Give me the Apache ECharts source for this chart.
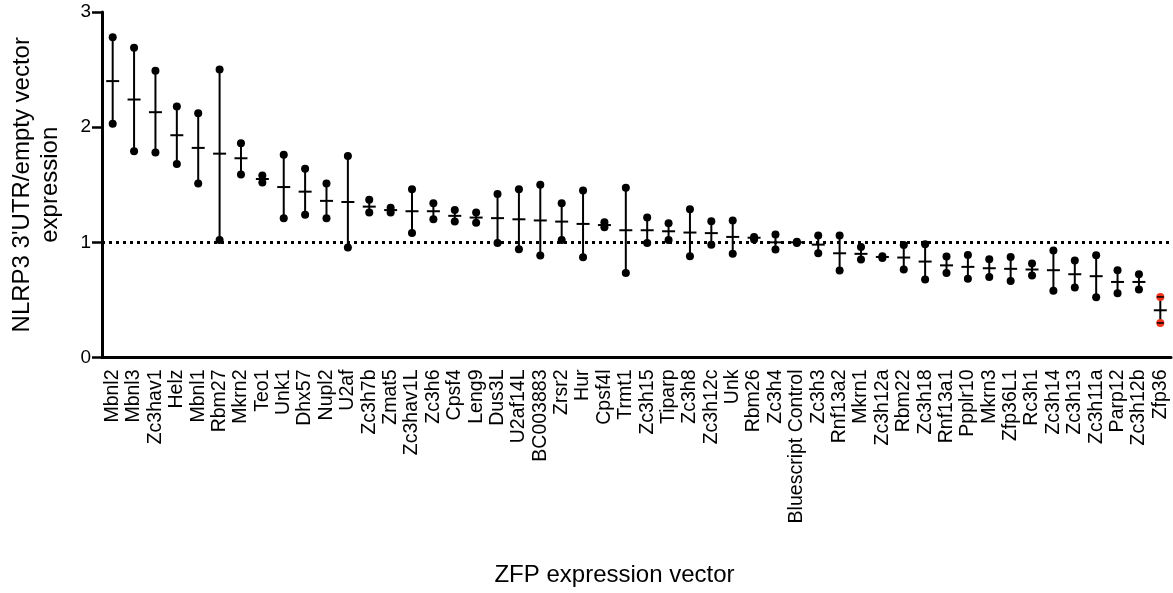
<!DOCTYPE html>
<html>
<head>
<meta charset="utf-8">
<script src="https://cdn.jsdelivr.net/npm/echarts@6/dist/echarts.min.js"></script>
<style>
html,body{margin:0;padding:0;background:#fff;}
#chart{width:1173px;height:593px;}
</style>
</head>
<body>
<div id="chart"></div>
<script>
const categories = ['Mbnl2','Mbnl3','Zc3hav1','Helz','Mbnl1','Rbm27','Mkrn2','Teo1','Unk1','Dhx57','Nupl2','U2af','Zc3h7b','Zmat5','Zc3hav1L','Zc3h6','Cpsf4','Leng9','Dus3L','U2af14L','BC003883','Zrsr2','Hur','Cpsf4l','Trmt1','Zc3h15','Tiparp','Zc3h8','Zc3h12c','Unk','Rbm26','Zc3h4','Bluescript Control','Zc3h3','Rnf13a2','Mkrn1','Zc3h12a','Rbm22','Zc3h18','Rnf13a1','Ppplr10','Mkrn3','Zfp36L1','Rc3h1','Zc3h14','Zc3h13','Zc3h11a','Parp12','Zc3h12b','Zfp36'];
const highValues = [2.78,2.69,2.49,2.18,2.12,2.50,1.86,1.58,1.76,1.64,1.51,1.75,1.37,1.30,1.46,1.34,1.28,1.26,1.42,1.46,1.50,1.34,1.45,1.175,1.475,1.215,1.166,1.287,1.183,1.19,1.047,1.068,1.005,1.059,1.059,0.96,0.88,0.977,0.983,0.877,0.89,0.853,0.873,0.816,0.93,0.842,0.888,0.758,0.723,0.526];
const lowValues = [2.03,1.79,1.78,1.68,1.51,1.02,1.59,1.52,1.21,1.24,1.21,0.955,1.26,1.26,1.08,1.20,1.18,1.17,0.995,0.94,0.885,1.02,0.87,1.13,0.734,0.995,1.02,0.88,0.98,0.90,1.024,0.937,0.995,0.905,0.755,0.85,0.865,0.764,0.677,0.734,0.683,0.70,0.665,0.712,0.58,0.608,0.523,0.558,0.59,0.30];
const meanValues = [2.40,2.24,2.13,1.93,1.82,1.77,1.73,1.55,1.48,1.44,1.36,1.35,1.31,1.28,1.27,1.27,1.23,1.215,1.21,1.20,1.19,1.18,1.16,1.15,1.105,1.105,1.096,1.085,1.08,1.047,1.04,1.0,1.0,0.98,0.905,0.90,0.873,0.868,0.833,0.80,0.787,0.775,0.77,0.764,0.758,0.723,0.706,0.656,0.656,0.41];
const referenceLevel = 1;
const yTicks = [0, 1, 2, 3];
const highlighted = 'Zfp36';

const FONT = '"Liberation Sans", Arial, Helvetica, sans-serif';
const chart = echarts.init(document.getElementById('chart'), null, {renderer: 'canvas'});

const rangeData = categories.map((c, i) => [i, lowValues[i], highValues[i], meanValues[i]]);
const dotColor = p => (categories[p.dataIndex] === highlighted ? '#f2331b' : '#000');

chart.setOption({
  animation: false,
  backgroundColor: '#fff',
  grid: {left: 97, right: 2, top: 12, bottom: 235.5, containLabel: false},
  xAxis: {
    type: 'category',
    data: categories,
    boundaryGap: true,
    name: 'ZFP expression vector',
    nameLocation: 'middle',
    nameGap: 206,
    nameTextStyle: {fontFamily: FONT, fontSize: 24, color: '#000', padding: [0, 44, 0, 0]},
    axisLine: {lineStyle: {color: '#000', width: 3}},
    axisTick: {alignWithLabel: true, length: 9, lineStyle: {color: '#000', width: 2.5}},
    axisLabel: {rotate: 90, interval: 0, margin: 12, fontFamily: FONT, fontSize: 19.5, color: '#000'},
    splitLine: {show: false}
  },
  yAxis: {
    type: 'value',
    min: yTicks[0],
    max: yTicks[yTicks.length - 1],
    interval: 1,
    name: "NLRP3 3'UTR/empty vector\nexpression",
    nameLocation: 'middle',
    nameGap: 38,
    nameTextStyle: {fontFamily: FONT, fontSize: 24, color: '#000', lineHeight: 28},
    axisLine: {show: true, lineStyle: {color: '#000', width: 3}},
    axisTick: {show: true, length: 10, lineStyle: {color: '#000', width: 2.5}},
    axisLabel: {margin: 11, fontFamily: FONT, fontSize: 19, color: '#000',
      formatter: v => (yTicks.indexOf(v) >= 0 ? String(v) : '')},
    splitLine: {show: false}
  },
  series: [
    {
      type: 'custom',
      z: 2,
      data: rangeData,
      renderItem: (params, api) => {
        const x = api.value(0);
        const lo = api.coord([x, api.value(1)]);
        const hi = api.coord([x, api.value(2)]);
        const mn = api.coord([x, api.value(3)]);
        const half = 6.5;
        return {
          type: 'group',
          children: [
            {type: 'line', shape: {x1: lo[0], y1: lo[1], x2: hi[0], y2: hi[1]}, style: {stroke: '#000', lineWidth: 2}},
            {type: 'line', shape: {x1: mn[0] - half, y1: mn[1], x2: mn[0] + half, y2: mn[1]}, style: {stroke: '#000', lineWidth: 2}}
          ]
        };
      },
      markLine: {
        silent: true,
        symbol: ['none', 'none'],
        label: {show: false},
        lineStyle: {color: '#000', width: 3, type: [3, 4]},
        data: [{yAxis: referenceLevel}]
      }
    },
    {
      type: 'scatter', z: 3, symbol: 'circle', symbolSize: 8,
      data: highValues.map((v, i) => [i, v]),
      itemStyle: {color: dotColor, opacity: 1}
    },
    {
      type: 'scatter', z: 3, symbol: 'circle', symbolSize: 8,
      data: lowValues.map((v, i) => [i, v]),
      itemStyle: {color: dotColor, opacity: 1}
    },
    {
      type: 'custom',
      z: 4,
      data: rangeData,
      renderItem: (params, api) => {
        const x = api.value(0);
        const lo = api.coord([x, api.value(1)]);
        const hi = api.coord([x, api.value(2)]);
        const half = 3.5;
        return {
          type: 'group',
          children: [
            {type: 'line', shape: {x1: lo[0] - half, y1: lo[1], x2: lo[0] + half, y2: lo[1]}, style: {stroke: '#000', lineWidth: 1.5}},
            {type: 'line', shape: {x1: hi[0] - half, y1: hi[1], x2: hi[0] + half, y2: hi[1]}, style: {stroke: '#000', lineWidth: 1.5}}
          ]
        };
      }
    }
  ]
});
</script>
</body>
</html>
